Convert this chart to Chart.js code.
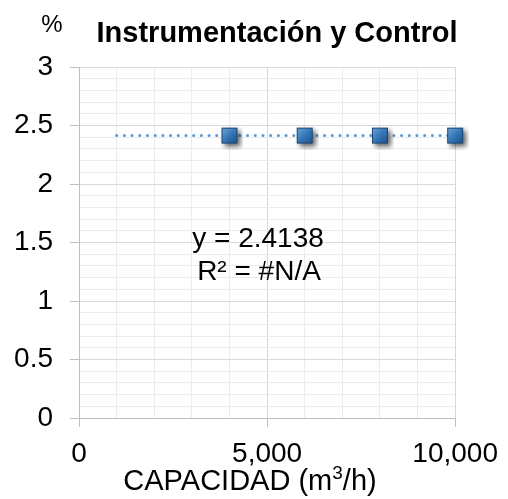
<!DOCTYPE html>
<html>
<head>
<meta charset="utf-8">
<script src="https://cdn.jsdelivr.net/npm/chart.js@4"></script>
<style>
  html, body { margin: 0; padding: 0; background: #fff; }
  canvas { display: block; }
</style>
</head>
<body>
<canvas id="grafico" width="508" height="499"></canvas>
<script>
// datos de la gráfica
const capacidad = [4000, 6000, 8000, 10000];          // m3/h
const porcentaje = [2.4138, 2.4138, 2.4138, 2.4138];  // %
const tendenciaX = [1000, 10000];
const tendenciaY = 2.4138;
const etiquetasX = { 0: '0', 5000: '5,000', 10000: '10,000' };
const titulo = 'Instrumentación y Control';

const FUENTE = '"Liberation Sans", Arial, sans-serif';

// marcador cuadrado azul con sombra
function crearMarcador() {
  const c = document.createElement('canvas');
  c.width = 28; c.height = 28;
  const g = c.getContext('2d');
  g.save();
  g.shadowColor = 'rgba(0,0,0,0.6)';
  g.shadowBlur = 5;
  g.shadowOffsetX = 3;
  g.shadowOffsetY = 3;
  g.fillStyle = '#2c5f91';
  g.fillRect(6, 6, 16, 16);
  g.restore();
  const grad = g.createLinearGradient(6, 6, 22, 22);
  grad.addColorStop(0, '#6ea6dc');
  grad.addColorStop(0.5, '#3677b8');
  grad.addColorStop(1, '#1e4f80');
  g.fillStyle = grad;
  g.fillRect(6, 6, 16, 16);
  g.strokeStyle = '#1c4670';
  g.lineWidth = 1;
  g.strokeRect(6.5, 6.5, 15, 15);
  return c;
}

function esMayorY(v) { return Math.abs(v * 2 - Math.round(v * 2)) < 1e-6; }
function esMayorX(v) { return v % 5000 === 0; }

// textos libres: unidad, título, ecuación y título del eje x
const textos = {
  id: 'textos',
  afterDraw(chart) {
    const ctx = chart.ctx;
    ctx.save();
    ctx.fillStyle = '#000';
    ctx.textBaseline = 'middle';
    ctx.textAlign = 'center';

    ctx.font = '24px ' + FUENTE;
    ctx.fillText('%', 52, 25);

    ctx.font = 'bold 29px ' + FUENTE;
    ctx.fillText(titulo, 277, 34);

    ctx.font = '28px ' + FUENTE;
    ctx.fillText('y = ' + tendenciaY.toFixed(4), 258, 239);
    ctx.fillText('R² = #N/A', 259, 272);

    // CAPACIDAD (m3/h) con superíndice
    const a = 'CAPACIDAD (m', s = '3', b = '/h)';
    ctx.font = '29px ' + FUENTE;
    const wa = ctx.measureText(a).width, wb = ctx.measureText(b).width;
    ctx.font = '19px ' + FUENTE;
    const ws = ctx.measureText(s).width;
    let x = 250 - (wa + ws + wb) / 2;
    const y = 482;
    ctx.textAlign = 'left';
    ctx.font = '29px ' + FUENTE;
    ctx.fillText(a, x, y);
    x += wa;
    ctx.font = '19px ' + FUENTE;
    ctx.fillText(s, x, y - 8);
    x += ws;
    ctx.font = '29px ' + FUENTE;
    ctx.fillText(b, x, y);
    ctx.restore();
  }
};

const ctx = document.getElementById('grafico').getContext('2d');
new Chart(ctx, {
  type: 'scatter',
  data: {
    datasets: [
      {
        label: 'Instrumentación y Control',
        data: capacidad.map((c, i) => ({ x: c, y: porcentaje[i] })),
        pointStyle: crearMarcador(),
        pointRadius: 8,
        clip: false,
        order: 0
      },
      {
        type: 'line',
        label: 'Tendencia',
        data: tendenciaX.map(x => ({ x: x, y: tendenciaY })),
        borderColor: '#5b9bd5',
        borderWidth: 3,
        borderDash: [0.1, 7.6],
        borderCapStyle: 'round',
        pointRadius: 0,
        fill: false,
        order: 1
      }
    ]
  },
  options: {
    responsive: false,
    animation: false,
    layout: { padding: { top: 67, right: 50, left: 0, bottom: 0 } },
    plugins: {
      legend: { display: false },
      title: { display: false },
      tooltip: { enabled: false }
    },
    scales: {
      x: {
        type: 'linear',
        min: 0,
        max: 10000,
        afterFit(scale) { scale.height = 81; },
        border: { color: '#bfbfbf', width: 1 },
        grid: {
          color: c => esMayorX(c.tick.value) ? '#d9d9d9' : '#ececec',
          tickColor: c => esMayorX(c.tick.value) ? '#bfbfbf' : 'rgba(0,0,0,0)',
          tickLength: 9
        },
        ticks: {
          stepSize: 1000,
          autoSkip: false,
          maxRotation: 0,
          padding: 10,
          color: '#000',
          font: { family: FUENTE, size: 28 },
          callback: v => etiquetasX[v] !== undefined ? etiquetasX[v] : ''
        }
      },
      y: {
        min: 0,
        max: 3,
        afterFit(scale) { scale.width = 79; },
        border: { color: '#bfbfbf', width: 1 },
        grid: {
          color: c => esMayorY(c.tick.value) ? '#d9d9d9' : '#ececec',
          tickColor: c => esMayorY(c.tick.value) ? '#bfbfbf' : 'rgba(0,0,0,0)',
          tickLength: 9
        },
        ticks: {
          stepSize: 0.1,
          autoSkip: false,
          padding: 17,
          color: '#000',
          font: { family: FUENTE, size: 28 },
          callback: v => esMayorY(v) ? String(Math.round(v * 2) / 2) : ''
        }
      }
    }
  },
  plugins: [textos]
});
</script>
</body>
</html>
